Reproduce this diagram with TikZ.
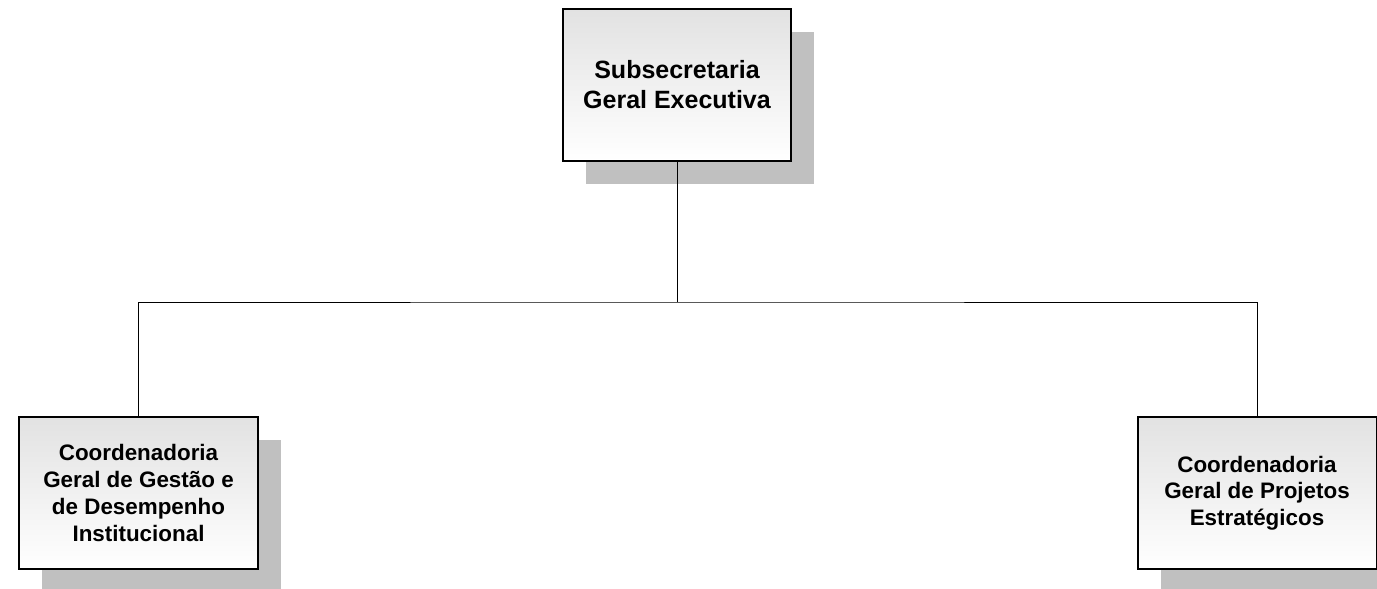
\documentclass[tikz,border=0pt]{standalone}
\usepackage{fontspec}
\setmainfont{Liberation Sans}
\usetikzlibrary{shadows}
\definecolor{shadowgray}{RGB}{192,192,192}
\definecolor{boxtop}{RGB}{226,226,226}
\begin{document}
\begin{tikzpicture}[x=1pt,y=-1pt,
  orgbox/.style={draw=black, line width=2pt, rectangle, top color=boxtop, bottom color=white,
    align=center, inner sep=0pt, font=\bfseries,
    drop shadow={shadow xshift=23pt, shadow yshift=-23pt, fill=shadowgray, opacity=1}},
  conn/.style={draw=black, line width=1pt}]
\useasboundingbox (0,0) rectangle (1377,589);
\clip (0,0) rectangle (1377,589);
\node[orgbox, minimum width=228pt, minimum height=152pt, font=\bfseries\fontsize{25}{30}\selectfont] (top) at (677,85) {Subsecretaria\\Geral Executiva};
\node[orgbox, minimum width=239pt, minimum height=152pt, font=\bfseries\fontsize{22.4}{26.7}\selectfont] (left) at (138.5,493) {Coordenadoria\\Geral de Gestão e\\de Desempenho\\Institucional};
\node[orgbox, minimum width=239pt, minimum height=152pt, font=\bfseries\fontsize{22.4}{26.7}\selectfont] (right) at (1257,493) {Coordenadoria\\Geral de Projetos\\Estratégicos};
\coordinate (j) at (677,302);
\draw[conn] (top.south) -- (j);
\draw[conn] (left.north) |- (j) -| (right.north);
\end{tikzpicture}
\end{document}
